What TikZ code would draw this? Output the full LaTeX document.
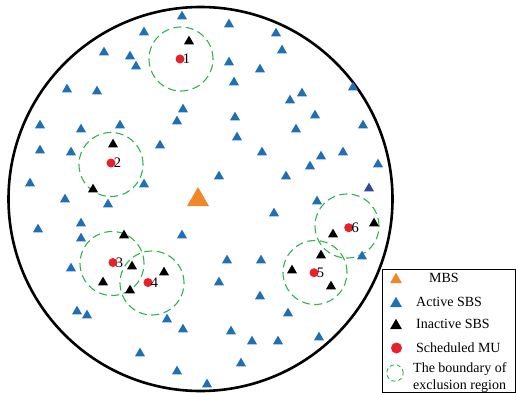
\documentclass[tikz,border=0pt]{standalone}
\usepackage{fontspec}
\setmainfont{Liberation Serif}
\usepackage{xcolor}
\usetikzlibrary{shapes.geometric,positioning}
\definecolor{sbsBlue}{HTML}{1F6FB7}
\definecolor{sbsDeep}{HTML}{34489A}
\definecolor{mbsOrange}{HTML}{F0882A}
\definecolor{muRed}{HTML}{E8202A}
\definecolor{exclGreen}{HTML}{2DB44F}
\tikzset{
  sbsact/.style={regular polygon, regular polygon sides=3, minimum size=11.5pt,
                 inner sep=0pt, fill=sbsBlue, yshift=-1.4pt},
  sbsoff/.style={sbsact, fill=black},
  mbstri/.style={regular polygon, regular polygon sides=3, minimum size=25.4pt,
                 inner sep=0pt, fill=mbsOrange, yshift=-3.2pt},
  mudot/.style={circle, fill=muRed, minimum size=9pt, inner sep=0pt},
  mulabel/.style={inner sep=0pt, font=\fontsize{14.5}{16}\selectfont},
  exclring/.style={circle, draw=exclGreen, line width=1.1pt, dash pattern=on 8pt off 4.5pt,
                   minimum size=64pt, inner sep=0pt},
  legtext/.style={anchor=west, inner sep=0pt, align=left, font=\fontsize{14}{17}\selectfont},
}
\begin{document}
\begin{tikzpicture}[x=1pt, y=-1pt]
  \useasboundingbox (0,0) rectangle (516,393);
  \draw[line width=2.6pt] (200.5,199) circle (192pt);
  % exclusion regions
  \node[exclring] (ex1) at (181,59) {};
  \node[exclring] (ex2) at (111,164.5) {};
  \node[exclring] (ex3) at (112,263.5) {};
  \node[exclring] (ex4) at (152,283) {};
  \node[exclring] (ex5) at (315,272.5) {};
  \node[exclring] (ex6) at (347,226) {};
  % active SBS
  \foreach \x/\y [count=\i] in {182/15, 229/23, 144/31, 104/51, 130/55, 136/65, 67/88, 97/90,
      229/61, 260/68, 234/81, 276/32, 282/49, 183/108, 177/120, 235/116, 237/136, 40/124,
      81/128, 120/124, 160/144, 262/151, 40/149, 71/151, 219/175, 144/183, 30/182, 65/198,
      108/203, 353/86, 302/92, 290/99, 315/114, 296/128, 363/124, 343/151, 321/155, 310/165,
      378/163, 286/175, 317/200, 81/222, 38/228, 81/237, 71/267, 77/310, 87/314, 182/234,
      227/259, 261/259, 219/281, 260/295, 167/318, 183/328, 231/330, 252/340, 140/352,
      241/362, 177/370, 207/383, 274/212, 362/255, 288/312, 278/340, 319/336}
    \node[sbsact] (act\i) at (\x,\y) {};
  \node[sbsact, fill=sbsDeep] (act66) at (369,187) {};
  % inactive SBS
  \foreach \x/\y [count=\i] in {189/40, 113/143, 93/188, 124/234, 132/265, 103/281, 130/289,
      164/271, 374/222, 333/233, 321/254, 292/269, 331/285}
    \node[sbsoff] (off\i) at (\x,\y) {};
  \node[mbstri] (mbs) at (198,196.5) {};
  % scheduled MUs
  \foreach \x/\y [count=\i] in {180/59, 111/163, 113/262.5, 148/282.5, 314/272.7, 348.7/227.7} {
    \node[mudot] (mu\i) at (\x,\y) {};
    \node[mulabel, right=-2pt of mu\i] (num\i) {\i};
  }
  % legend
  \draw[line width=0.8pt] (382,269) rectangle (515.4,392.4);
  \node[mbstri, minimum size=13.8pt, yshift=1.5pt] (lgmbs) at (396,278) {};
  \node[sbsact, minimum size=13.8pt, yshift=-0.3pt] (lgact) at (396,302) {};
  \node[sbsoff, minimum size=13.8pt, yshift=-0.3pt] (lgoff) at (396,324) {};
  \node[mudot, minimum size=11pt] (lgmu) at (396.5,348) {};
  \node[circle, draw=exclGreen, line width=0.9pt, dash pattern=on 4pt off 3pt,
        minimum size=16.5pt, inner sep=0pt] (lgex) at (395,373) {};
  \node[legtext] (tmbs) at (429,278) {MBS};
  \node[legtext] (tact) at (416,302) {Active SBS};
  \node[legtext] (toff) at (416,324) {Inactive SBS};
  \node[legtext] (tmu) at (416,348) {Scheduled MU};
  \node[legtext] (tex) at (413,377.5) {The boundary of\\exclusion region};
\end{tikzpicture}
\end{document}
